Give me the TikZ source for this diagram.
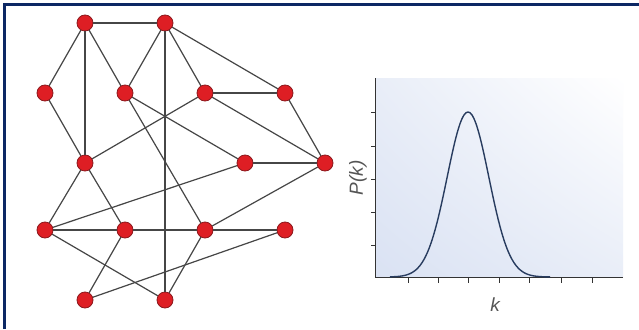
\documentclass[tikz,border=0pt]{standalone}
\usepackage{fontspec}
\setsansfont{Liberation Sans}
\definecolor{framenavy}{RGB}{12, 40, 100}
\definecolor{vertexred}{RGB}{222, 30, 36}
\definecolor{vertexrim}{RGB}{140, 24, 28}
\definecolor{edgegray}{RGB}{70, 70, 70}
\definecolor{curveblue}{RGB}{40, 60, 95}
\definecolor{panelblue}{RGB}{218, 226, 243}
\definecolor{labelgray}{RGB}{85, 85, 85}
\usetikzlibrary{positioning, shadings}

\begin{document}
\begin{tikzpicture}[
  x=1pt, y=-1pt,
  vertex/.style={
    circle, draw=vertexrim, fill=vertexred, line width=0.8pt,
    minimum size=16pt, inner sep=0pt
  },
  link/.style={draw=edgegray, line width=1.2pt},
  axis/.style={draw=black!80, line width=1pt},
  axlabel/.style={
    text=labelgray, inner sep=0pt,
    font=\sffamily\itshape\fontsize{19}{22}\selectfont
  }
]
\useasboundingbox (0,0) rectangle (639,329);
\fill[white] (0,0) rectangle (639,329);
\draw[framenavy, line width=3pt] (4.5,329) -- (4.5,4.5) -- (639,4.5);

% network
\node[vertex] (v1)  at (85,23)  {};
\node[vertex] (v2)  at (165,23) {};
\node[vertex] (v3)  at (45,93)  {};
\node[vertex] (v4)  at (125,93) {};
\node[vertex] (v5)  at (205,93) {};
\node[vertex] (v6)  at (285,93) {};
\node[vertex] (v7)  at (85,163) {};
\node[vertex] (v8)  at (245,163) {};
\node[vertex] (v9)  at (325,163) {};
\node[vertex] (v10) at (45,230) {};
\node[vertex] (v11) at (125,230) {};
\node[vertex] (v12) at (205,230) {};
\node[vertex] (v13) at (285,230) {};
\node[vertex] (v14) at (85,300) {};
\node[vertex] (v15) at (165,300) {};

\draw[link] (v1) -- (v2);
\draw[link] (v1) -- (v3);
\draw[link] (v1) -- (v7);
\draw[link] (v1) -- (v4);
\draw[link] (v2) -- (v4);
\draw[link] (v2) -- (v15);
\draw[link] (v2) -- (v5);
\draw[link] (v2) -- (v6);
\draw[link] (v3) -- (v7);
\draw[link] (v4) -- (v8);
\draw[link] (v4) -- (v12);
\draw[link] (v5) -- (v6);
\draw[link] (v5) -- (v7);
\draw[link] (v5) -- (v9);
\draw[link] (v6) -- (v9);
\draw[link] (v8) -- (v9);
\draw[link] (v8) -- (v10);
\draw[link] (v7) -- (v10);
\draw[link] (v7) -- (v11);
\draw[link] (v10) -- (v11);
\draw[link] (v11) -- (v12);
\draw[link] (v12) -- (v13);
\draw[link] (v10) -- (v15);
\draw[link] (v11) -- (v14);
\draw[link] (v14) -- (v13);
\draw[link] (v12) -- (v15);
\draw[link] (v9) -- (v12);

% degree distribution
\coordinate (origin) at (375,277);
\coordinate (ytop) at (375,78);
\coordinate (xend) at (623,277);
\shade[lower left=panelblue, upper right=white,
  upper left=panelblue!60!white, lower right=panelblue!60!white]
  (origin) rectangle (623,78);
\foreach \ty in {112,146,179,212,245}
  \draw[axis, line width=0.8pt] (371,\ty) -- (375,\ty);
\foreach \tx in {408,438,468,499,529,561,592}
  \draw[axis, line width=0.8pt] (\tx,277) -- (\tx,283);
\draw[axis] (ytop) -- (origin) -- (xend);
\draw[curveblue, line width=1.4pt, smooth, samples=81, domain=390:550]
  plot (\x, {277-165*exp(-((\x-468)/20.8)^2/2)});

\node[axlabel, rotate=90] (pk) at (358,178) {P(k)};
\node[axlabel] (k) at (495,305) {k};
\end{tikzpicture}
\end{document}
